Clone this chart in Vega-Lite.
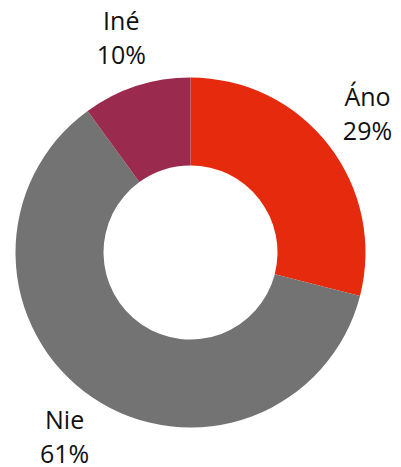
{
  "$schema": "https://vega.github.io/schema/vega-lite/v6.json",
  "width": 381,
  "height": 429,
  "autosize": "none",
  "padding": {"left": 0, "right": 20, "top": 38, "bottom": 0},
  "background": "white",
  "view": {"stroke": null},
  "data": {
    "values": [
      {"answer": "Áno", "value": 29, "label": "Áno\n29%", "ord": 1},
      {"answer": "Nie", "value": 61, "label": "Nie\n61%", "ord": 2},
      {"answer": "Iné", "value": 10, "label": "Iné\n10%", "ord": 3}
    ]
  },
  "encoding": {
    "theta": {"field": "value", "type": "quantitative", "stack": true},
    "order": {"field": "ord", "type": "quantitative"}
  },
  "layer": [
    {
      "mark": {"type": "arc", "outerRadius": 175, "innerRadius": 87},
      "encoding": {
        "color": {
          "field": "answer",
          "type": "nominal",
          "scale": {"domain": ["Áno", "Nie", "Iné"], "range": ["#E62A0D", "#737373", "#9B2B4E"]},
          "legend": null
        }
      }
    },
    {
      "mark": {"type": "text", "radius": 224, "dy": -17, "fontSize": 25, "font": "Open Sans", "lineBreak": "\n", "lineHeight": 34, "baseline": "middle", "align": "center", "color": "#111111"},
      "encoding": {
        "text": {"field": "label", "type": "nominal"}
      }
    }
  ]
}
